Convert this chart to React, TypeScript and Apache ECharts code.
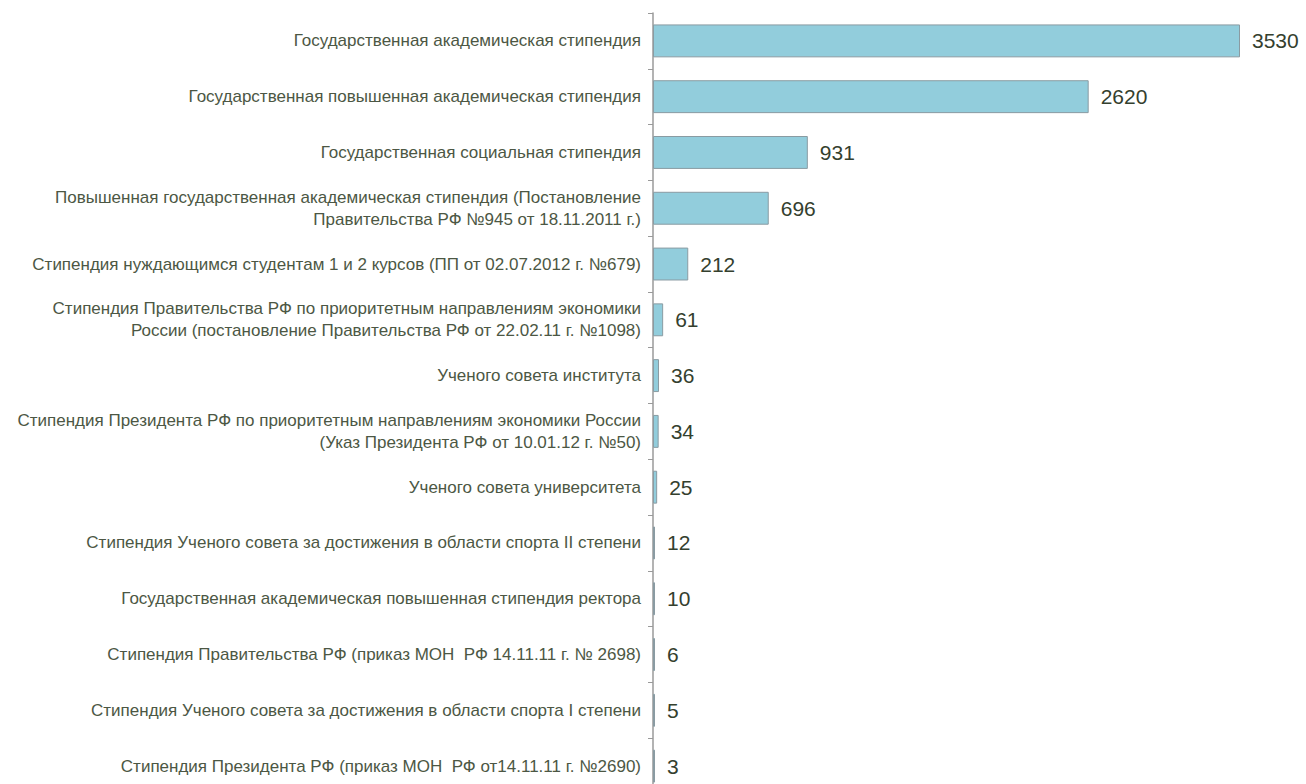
import React, { useEffect, useRef } from "react";
import * as echarts from "echarts";

const categories: string[] = [
  "Государственная академическая стипендия",
  "Государственная повышенная академическая стипендия",
  "Государственная социальная стипендия",
  "Повышенная государственная академическая стипендия (Постановление\nПравительства РФ №945 от 18.11.2011 г.)",
  "Стипендия нуждающимся студентам 1 и 2 курсов (ПП от 02.07.2012 г. №679)",
  "Стипендия Правительства РФ по приоритетным направлениям экономики\nРоссии (постановление Правительства РФ от 22.02.11 г. №1098)",
  "Ученого совета института",
  "Стипендия Президента РФ по приоритетным направлениям экономики России\n(Указ Президента РФ от 10.01.12 г. №50)",
  "Ученого совета университета",
  "Стипендия Ученого совета за достижения в области спорта II степени",
  "Государственная академическая повышенная стипендия ректора",
  "Стипендия Правительства РФ (приказ МОН  РФ 14.11.11 г. № 2698)",
  "Стипендия Ученого совета за достижения в области спорта I степени",
  "Стипендия Президента РФ (приказ МОН  РФ от14.11.11 г. №2690)",
];

const values: number[] = [3530, 2620, 931, 696, 212, 61, 36, 34, 25, 12, 10, 6, 5, 3];

const FONT = "'Liberation Sans', Arial, sans-serif";

export default function App() {
  const ref = useRef<HTMLDivElement>(null);
  useEffect(() => {
    if (!ref.current) return;
    const chart = echarts.init(ref.current, undefined, { renderer: "svg" });
    chart.setOption({
      animation: false,
      backgroundColor: "#ffffff",
      grid: {
        left: 653,
        right: 66,
        top: 13,
        bottom: -10,
        containLabel: false,
        outerBoundsMode: "none",
      },
      xAxis: {
        type: "value",
        min: 0,
        max: 3530,
        show: false,
        splitLine: { show: false },
      },
      yAxis: {
        type: "category",
        data: categories,
        inverse: true,
        axisLine: { show: true, lineStyle: { color: "#9a9a9a", width: 1.5 } },
        axisTick: { show: true, inside: false, length: 5, lineStyle: { color: "#9a9a9a" } },
        axisLabel: {
          fontFamily: FONT,
          fontSize: 17,
          color: "#4c5744",
          margin: 12,
          lineHeight: 22,
          align: "right",
        },
      },
      series: [
        {
          type: "bar",
          data: values,
          barCategoryGap: "41%",
          barMinHeight: 2,
          itemStyle: { color: "#92cddc", borderColor: "#8a9ba2", borderWidth: 1 },
          label: {
            show: true,
            position: "right",
            distance: 12,
            fontFamily: FONT,
            fontSize: 21,
            color: "#34402e",
          },
        },
      ],
    });
    return () => chart.dispose();
  }, []);
  return (
    <div
      ref={ref}
      style={{ position: "fixed", left: 0, top: 0, width: 1306, height: 784, background: "#fff" }}
    />
  );
}
